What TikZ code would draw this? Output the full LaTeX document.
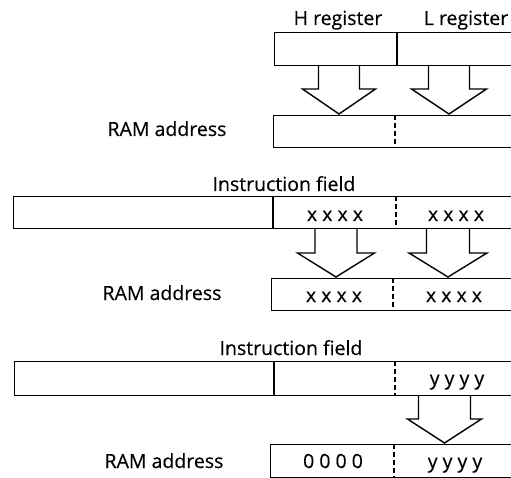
\documentclass[tikz,border=0pt]{standalone}
\usepackage{fontspec}
\setmainfont{Open Sans}
\newfontfamily\lblfont{Open Sans}[FakeBold=0.3]
\begin{document}
\begin{tikzpicture}[x=1pt,y=-1pt,
  lbl/.style={font=\lblfont\fontsize{19.5}{22}\selectfont, inner sep=0pt, anchor=base},
  regbox/.style={draw, line width=1.4pt, inner sep=0pt, anchor=north west},
  divsolid/.style={line width=1.4pt},
  divdash/.style={line width=1.4pt, dash pattern=on 5pt off 3pt},
  fat/.style={line width=1.4pt, line join=miter}]
\clip (0,0) rectangle (511,478);
\fill[white] (0,0) rectangle (511,478);
% macro for fat arrow: center, shaft half width, head half width, top, neck, tip
\newcommand\fatarrow[6]{%
  \draw[fat] (#1-#2,#4) -- (#1-#2,#5) -- (#1-#3,#5) -- (#1,#6) -- (#1+#3,#5) -- (#1+#2,#5) -- (#1+#2,#4);}
% ---------- top section ----------
\node[lbl] (hl) at (338,25) {H register};
\node[lbl] (ll) at (466,25) {L register};
\node[regbox, minimum width=260pt, minimum height=33pt] (hlbox) at (274,32) {};
\draw[divsolid] (397,32) -- (397,65);
\node[regbox, minimum width=260pt, minimum height=32pt] (ram1) at (273,115) {};
\draw[divdash] (395,115) -- (395,147);
\node[lbl] (ram1l) at (167,136) {RAM address};
\fatarrow{339}{20.5}{36.5}{65}{89}{114}
\fatarrow{449}{20.5}{37.5}{65}{89}{114}
% ---------- middle section ----------
\node[lbl] (if1) at (284,191) {Instruction field};
\node[regbox, minimum width=520pt, minimum height=32pt] (ins1) at (13,196) {};
\draw[divsolid] (273,196) -- (273,228);
\draw[divdash] (396,196) -- (396,228);
\node[lbl] (x1) at (335,221) {x x x x};
\node[lbl] (x2) at (456,221) {x x x x};
\node[regbox, minimum width=260pt, minimum height=32pt] (ram2) at (271,278) {};
\draw[divdash] (393,278) -- (393,310);
\node[lbl] (x3) at (334,302) {x x x x};
\node[lbl] (x4) at (454,302) {x x x x};
\node[lbl] (ram2l) at (162,300) {RAM address};
\fatarrow{336}{21}{38.5}{228}{253}{277}
\fatarrow{448}{21.5}{39}{228}{253}{277}
% ---------- bottom section ----------
\node[lbl] (if2) at (291,355) {Instruction field};
\node[regbox, minimum width=520pt, minimum height=34pt] (ins2) at (14,361) {};
\draw[divsolid] (274,361) -- (274,395);
\draw[divdash] (395,361) -- (395,395);
\node[lbl] (y1) at (457,385) {y y y y};
\node[regbox, minimum width=260pt, minimum height=33pt] (ram3) at (270,444) {};
\draw[divdash] (394,444) -- (394,477);
\node[lbl] (z1) at (333,468) {0 0 0 0};
\node[lbl] (y2) at (455,468) {y y y y};
\node[lbl] (ram3l) at (164,468) {RAM address};
\fatarrow{444.5}{26}{37}{395}{419}{443}
\end{tikzpicture}
\end{document}
